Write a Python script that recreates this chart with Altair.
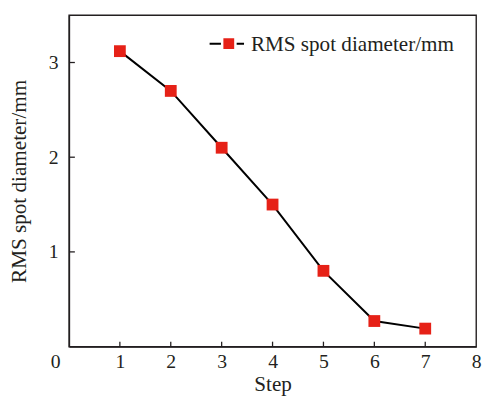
import altair as alt
import pandas as pd

steps = [1, 2, 3, 4, 5, 6, 7]
rms = [3.12, 2.70, 2.10, 1.50, 0.80, 0.27, 0.19]
series_name = "RMS spot diameter/mm"
x_ticks = [0, 1, 2, 3, 4, 5, 6, 7, 8]
y_ticks = [1, 2, 3]

df = pd.DataFrame({"step": steps, "rms": rms})
xt = pd.DataFrame({"v": x_ticks[1:-1]})
yt = pd.DataFrame({"v": y_ticks})
leg = pd.DataFrame({"label": [series_name]})

FONT = "Liberation Serif"
INK = "#231f20"
RED = "#e62117"
W, H = 414, 337

xscale = alt.Scale(domain=[0, 8], nice=False, zero=False)
yscale = alt.Scale(domain=[0, 3.5], nice=False)

x_enc = alt.X(
    "step:Q", scale=xscale,
    axis=alt.Axis(
        values=x_ticks, title="Step", grid=False, ticks=False, labelPadding=5,
        format="d", labelFlush=False,
        labelOffset={"condition": {"test": "datum.value == 0", "value": -14}, "value": 0},
        titlePadding=3,
    ),
)
y_enc = alt.Y(
    "rms:Q", scale=yscale,
    axis=alt.Axis(values=y_ticks, title="RMS spot diameter/mm", grid=False,
                  format="d", ticks=False, labelPadding=11, titlePadding=18),
)

line = alt.Chart(df).mark_line(color="black", strokeWidth=2).encode(x=x_enc, y=y_enc)
points = alt.Chart(df).mark_point(
    shape="square", filled=True, size=144, opacity=1, color=RED
).encode(x=x_enc, y=y_enc)

# inward ticks
xticks = alt.Chart(xt).mark_rule(color=INK, strokeWidth=1.3).encode(
    x=alt.X("v:Q", scale=xscale), y=alt.value(H), y2=alt.value(H - 5)
)
yticks = alt.Chart(yt).mark_rule(color=INK, strokeWidth=1.3).encode(
    y=alt.Y("v:Q", scale=yscale), x=alt.value(0), x2=alt.value(6)
)

# legend (line - square - line, then label), placed inside top right
leg_line = alt.Chart(leg).mark_rule(color="black", strokeWidth=2).encode(
    x=alt.value(143), x2=alt.value(178), y=alt.value(29)
)
leg_sq = alt.Chart(leg).mark_point(
    shape="square", filled=True, size=182, color=RED, opacity=1,
    stroke="white", strokeWidth=2.5,
).encode(x=alt.value(162.5), y=alt.value(29))
leg_txt = alt.Chart(leg).mark_text(
    align="left", baseline="middle", font=FONT, fontSize=21.5, color=INK, dy=1
).encode(x=alt.value(185), y=alt.value(29), text="label:N")

chart = (
    alt.layer(line, points, xticks, yticks, leg_line, leg_sq, leg_txt)
    .properties(
        width=W, height=H,
        autosize=alt.AutoSizeParams(type="none"),
        padding={"left": 62, "top": 4, "right": 8, "bottom": 50},
    )
    .configure_view(stroke=INK, strokeWidth=1.4)
    .configure_axis(
        labelFont=FONT, titleFont=FONT, labelFontSize=20, titleFontSize=21.5,
        labelColor=INK, titleColor=INK, titleFontWeight="normal",
        domainColor=INK, domainWidth=1.4,
    )
)

chart.save("out.html", embed_options={"renderer": "svg", "actions": False})
